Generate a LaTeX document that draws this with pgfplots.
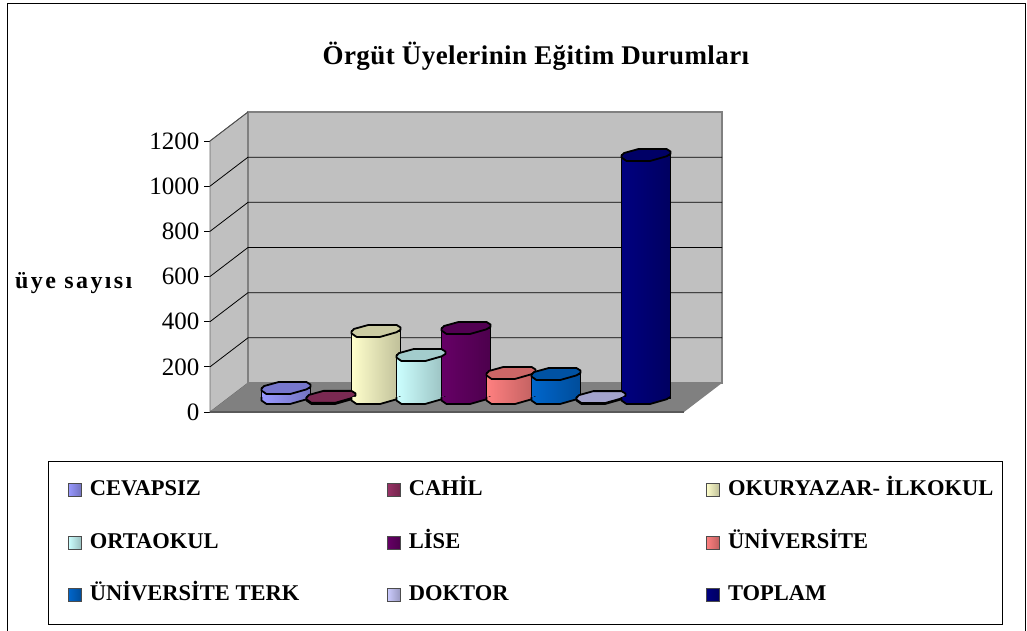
\documentclass[border=0pt]{standalone}
\usepackage{fontspec}
\setmainfont{Liberation Serif}
\usepackage{pgfplots}
\pgfplotsset{compat=1.18}
\definecolor{wallc}{HTML}{C0C0C0}
\definecolor{floorc}{HTML}{808080}
\definecolor{cA}{HTML}{9999FF}\definecolor{tA}{HTML}{7777CC}
\definecolor{cB}{HTML}{993366}\definecolor{tB}{HTML}{7A2952}
\definecolor{cC}{HTML}{FFFFCC}\definecolor{tC}{HTML}{CCCCA3}
\definecolor{cD}{HTML}{CCFFFF}\definecolor{tD}{HTML}{A3CCCC}
\definecolor{cE}{HTML}{660066}\definecolor{tE}{HTML}{520052}
\definecolor{cF}{HTML}{FF8080}\definecolor{tF}{HTML}{CC6666}
\definecolor{cG}{HTML}{0066CC}\definecolor{tG}{HTML}{0052A3}
\definecolor{cH}{HTML}{CCCCFF}\definecolor{tH}{HTML}{A3A3CC}
\definecolor{cI}{HTML}{000080}\definecolor{tI}{HTML}{000066}
% octagonal cylinder parts, drawn by marks placed through the axis
\newcommand{\declcyl}[1]{%
  \pgfdeclareplotmark{top#1}{%
    \path[fill=t#1,draw=black,line width=1.8pt,line join=round]
      (-24.5pt,-2.5pt)--(-24.5pt,-0.7pt)--(-22pt,2pt)--(-7.5pt,6pt)--(20.5pt,6pt)--(24.5pt,3.5pt)--(24.5pt,1.2pt)
      --(20.5pt,-1.3pt)--(4pt,-6pt)--(-19.5pt,-6pt)--cycle;}%
  \pgfdeclareplotmark{base#1}{%
    \path[left color=c#1,right color=c#1!75!black,draw=none]
      (-24.5pt,1pt)--(-24.5pt,-2.5pt)--(-19.5pt,-6pt)--(4pt,-6pt)--(20.5pt,-1.3pt)--(24.5pt,1.2pt)--cycle;
    \path[draw=black,line width=1.8pt,line join=round]
      (-24.5pt,1pt)--(-24.5pt,-2.5pt)--(-19.5pt,-6pt)--(4pt,-6pt)--(20.5pt,-1.3pt)--(24.5pt,1.2pt);}%
}
\declcyl{A}\declcyl{B}\declcyl{C}\declcyl{D}\declcyl{E}\declcyl{F}\declcyl{G}\declcyl{H}\declcyl{I}
% #1 letter, #2 category position, #3 value, #4 legend text, #5 text width
\newcommand{\cyl}[5]{%
  \addplot[ybar,bar width=49pt,bar shift=0pt,draw=black,line width=1.8pt,
    left color=c#1,right color=c#1!75!black,
    legend image code/.code={\path (0pt,0pt); \draw[fill=c#1,draw=black!70,line width=1.3pt] (9pt,-6.5pt) rectangle (22pt,6.5pt);}]
    coordinates {(#2,#3)};
  \addlegendentry{\makebox[#5][l]{\rule[-5pt]{0pt}{26pt}\raisebox{4pt}[0pt][0pt]{#4}}}
  \addplot[only marks,mark=base#1,forget plot] coordinates {(#2,0)};
  \addplot[only marks,mark=top#1,forget plot] coordinates {(#2,#3)};
}
\begin{document}
\begin{tikzpicture}[x=1pt,y=1pt]
\clip (0,0) rectangle (1027,630);
\draw[black,line width=1pt,fill=white] (7,-5) rectangle (1025,626);
\begin{axis}[
  at={(210pt,218pt)},anchor=south west,scale only axis,width=474pt,height=271pt,
  xmin=210,xmax=684,ymin=0,ymax=1200,clip=false,
  axis x line=none,axis y line*=left,axis line style={draw=none,-},
  xtick=\empty,ytick={0,200,400,600,800,1000,1200},
  tick align=outside,major tick length=6pt,tick style={black,line width=0.8pt},
  /pgf/number format/.cd,1000 sep={},assume math mode=true,
  /pgfplots/.cd,
  yticklabel style={font=\fontsize{25}{25}\selectfont,xshift=-1pt},
  title={\textbf{Örgüt Üyelerinin Eğitim Durumları}},
  title style={at={(0.688,1.2916)},anchor=center,font=\fontsize{27}{27}\selectfont\addfontfeature{LetterSpace=1.5}},
  ylabel={\textbf{üye sayısı}},
  every axis y label/.style={at={(axis description cs:-0.2848,0.476)},anchor=center,font=\fontsize{24}{24}\selectfont\addfontfeature{LetterSpace=10}},
]
% walls and floor
\addplot[fill=wallc,draw=black!60,line width=0.8pt] coordinates {(210,0) (248,128.4) (248,1328.4) (210,1200)} --cycle;
\addplot[fill=wallc,draw=floorc,line width=1.6pt] coordinates {(248,128.4) (722,128.4) (722,1328.4) (248,1328.4)} --cycle;
\addplot[fill=floorc,draw=none] coordinates {(210,0) (684,0) (722,128.4) (248,128.4)} --cycle;
\addplot[draw=black!65,line width=1.4pt] coordinates {(210,0) (684,0)};
% grid
\addplot[black,line width=0.8pt] coordinates {(210,200) (248,328.4) (722,328.4)};
\addplot[black,line width=0.8pt] coordinates {(210,400) (248,528.4) (722,528.4)};
\addplot[black,line width=0.8pt] coordinates {(210,600) (248,728.4) (722,728.4)};
\addplot[black,line width=0.8pt] coordinates {(210,800) (248,928.4) (722,928.4)};
\addplot[black,line width=0.8pt] coordinates {(210,1000) (248,1128.4) (722,1128.4)};
\addplot[black!70,line width=0.8pt] coordinates {(210,1200) (248,1328.4)};
\end{axis}
\begin{axis}[
  at={(210pt,232pt)},anchor=south west,scale only axis,width=474pt,height=271pt,
  xmin=-1.689,xmax=8.844,ymin=0,ymax=1200,clip=false,hide axis,
  legend columns=3,legend cell align=left,
  legend style={at={(-0.3418,-0.2325)},anchor=north west,draw=black,line width=0.8pt,
    font=\bfseries\fontsize{22.5}{22.5}\selectfont,
    inner xsep=10pt,inner ysep=17.5pt,row sep=30pt,
    nodes={inner sep=0pt},
    /tikz/every odd column/.style={column sep=8pt},
    /tikz/every even column/.style={column sep=0pt}},
]
\cyl{A}{0}{44}{CEVAPSIZ}{287.5pt}
\cyl{B}{1}{5}{CAHİL}{287.5pt}
\cyl{C}{2}{297}{OKURYAZAR- İLKOKUL}{264pt}
\cyl{D}{3}{190}{ORTAOKUL}{287.5pt}
\cyl{E}{4}{310}{LİSE}{287.5pt}
\cyl{F}{5}{111}{ÜNİVERSİTE}{264pt}
\cyl{G}{6}{106}{ÜNİVERSİTE TERK}{287.5pt}
\cyl{H}{7}{4}{DOKTOR}{287.5pt}
\cyl{I}{8}{1076}{TOPLAM}{264pt}
\end{axis}
\end{tikzpicture}
\end{document}
